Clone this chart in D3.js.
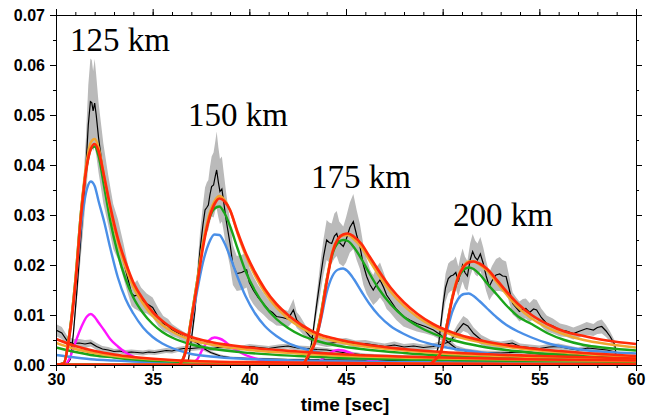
<!DOCTYPE html>
<html>
<head>
<meta charset="utf-8">
<title>envelopes</title>
<style>
  body { margin: 0; background: #fff; }
  svg { display: block; }
  .axis path, .axis line { stroke: #000; stroke-width: 1px; }
  .dist { font-family: "Liberation Serif", "Times New Roman", serif; font-size: 33px; fill: #000; }
</style>
</head>
<body>
<div id="chart"></div>
<script src="https://cdn.jsdelivr.net/npm/d3@7"></script>
<script>
// ---- data: labels and ticks
var distLabels = ["125 km", "150 km", "175 km", "200 km"];
var xTicks = [30, 35, 40, 45, 50, 55, 60];
var yTicks = [0, 0.01, 0.02, 0.03, 0.04, 0.05, 0.06, 0.07];

// ---- synthetic envelopes (time knots + values), 125 km
var t125 = [30, 30.4, 30.7, 31.0, 31.3, 31.6, 31.8, 32.0, 32.2, 32.5, 32.8, 33.2, 33.6, 34.0, 34.5, 35.0, 35.5, 36.0, 37, 38, 40, 42.5, 45, 50, 55, 60];
var m125 = [0, 0, 0.0013, 0.0045, 0.0075, 0.0097, 0.0102, 0.0096, 0.0085, 0.0069, 0.0052, 0.0037, 0.0025, 0.0017, 0.0011, 0.0008, 0.0006, 0.0005, 0.0004, 0.0003, 0.0002, 0.0002, 0.0001, 0.0001, 0.0001, 0.0001];
var b125 = [0, 0.0004, 0.006, 0.016, 0.028, 0.0352, 0.0367, 0.0358, 0.0328, 0.0285, 0.0235, 0.0175, 0.0132, 0.0103, 0.0075, 0.0056, 0.0043, 0.0034, 0.0022, 0.0017, 0.0012, 0.0009, 0.0007, 0.0005, 0.0004, 0.0003];
var g125 = [0, 0.0004, 0.0065, 0.017, 0.031, 0.040, 0.0432, 0.0437, 0.0418, 0.0355, 0.029, 0.0222, 0.0172, 0.0135, 0.0104, 0.0082, 0.0066, 0.0055, 0.0041, 0.0033, 0.0024, 0.0018, 0.0014, 0.001, 0.0008, 0.0006];
var o125 = [0, 0.0004, 0.0065, 0.017, 0.031, 0.041, 0.0445, 0.0452, 0.0435, 0.0375, 0.0312, 0.0245, 0.0195, 0.0156, 0.0123, 0.0098, 0.008, 0.0067, 0.005, 0.0041, 0.003, 0.0023, 0.0018, 0.0013, 0.001, 0.0008];
var r125 = [0, 0.0003, 0.006, 0.016, 0.030, 0.040, 0.0432, 0.0442, 0.0428, 0.0375, 0.0318, 0.0253, 0.0205, 0.0165, 0.0132, 0.0106, 0.0088, 0.0074, 0.0056, 0.0046, 0.0035, 0.0027, 0.0021, 0.0015, 0.0011, 0.0009];

// 150 km
var t150 = [30, 36.3, 36.7, 37.0, 37.3, 37.6, 37.9, 38.2, 38.45, 38.7, 39.0, 39.4, 39.8, 40.3, 40.8, 41.4, 42.0, 42.7, 43.5, 44.5, 46, 48, 50, 55, 60];
var m150 = [0, 0, 0.0001, 0.0003, 0.0011, 0.0033, 0.0049, 0.0055, 0.0053, 0.0048, 0.0038, 0.0028, 0.002, 0.0013, 0.0009, 0.0006, 0.0005, 0.0004, 0.0003, 0.0002, 0.0002, 0.0001, 0.0001, 0.0001, 0.0001];
var b150 = [0, 0, 0.0025, 0.0085, 0.0148, 0.0205, 0.0243, 0.0261, 0.026, 0.0245, 0.0217, 0.0175, 0.0138, 0.0103, 0.0078, 0.0058, 0.0044, 0.0034, 0.0026, 0.002, 0.0015, 0.0012, 0.001, 0.0007, 0.0005];
var g150 = [0, 0, 0.0028, 0.0095, 0.0168, 0.024, 0.029, 0.0313, 0.0317, 0.0305, 0.0278, 0.0232, 0.0188, 0.0148, 0.0118, 0.0092, 0.0074, 0.0059, 0.0048, 0.0039, 0.0031, 0.0024, 0.0019, 0.0013, 0.0009];
var o150 = [0, 0, 0.0027, 0.0095, 0.0168, 0.0243, 0.0298, 0.0328, 0.0338, 0.0331, 0.031, 0.0262, 0.022, 0.0178, 0.0145, 0.0115, 0.0093, 0.0074, 0.0058, 0.0047, 0.0037, 0.0029, 0.0023, 0.0016, 0.0012];
var r150 = [0, 0, 0.0025, 0.009, 0.016, 0.0235, 0.029, 0.0322, 0.0333, 0.0328, 0.031, 0.0265, 0.0225, 0.0185, 0.0152, 0.0122, 0.010, 0.008, 0.0063, 0.0052, 0.0041, 0.0032, 0.0026, 0.0018, 0.0013];

// 175 km
var t175 = [30, 42.7, 43.1, 43.4, 43.7, 44.0, 44.3, 44.6, 44.85, 45.1, 45.4, 45.8, 46.2, 46.7, 47.3, 48.0, 48.7, 49.5, 50.5, 52, 54, 57, 60];
var m175 = [0, 0, 0, 0.0003, 0.001, 0.0019, 0.0027, 0.003, 0.0029, 0.0026, 0.0021, 0.0015, 0.001, 0.0007, 0.0005, 0.0004, 0.0003, 0.0003, 0.0002, 0.0002, 0.0001, 0.0001, 0.0001];
var b175 = [0, 0, 0.0023, 0.0045, 0.009, 0.0145, 0.0178, 0.0191, 0.0193, 0.0187, 0.0172, 0.0147, 0.0123, 0.0099, 0.0078, 0.0062, 0.005, 0.0041, 0.0033, 0.0025, 0.0018, 0.0012, 0.0009];
var g175 = [0, 0, 0.0025, 0.005, 0.0102, 0.017, 0.0222, 0.0245, 0.025, 0.0248, 0.0236, 0.0212, 0.0184, 0.0152, 0.0122, 0.0096, 0.0078, 0.0063, 0.005, 0.0037, 0.0027, 0.0018, 0.0013];
var o175 = [0, 0, 0.0025, 0.005, 0.010, 0.017, 0.0228, 0.0253, 0.0259, 0.026, 0.0252, 0.0235, 0.021, 0.0179, 0.0147, 0.0118, 0.0096, 0.0077, 0.006, 0.0045, 0.0033, 0.0023, 0.0016];
var r175 = [0, 0, 0.0022, 0.0045, 0.0095, 0.0165, 0.0225, 0.0253, 0.0261, 0.0263, 0.0257, 0.0242, 0.0218, 0.0188, 0.0155, 0.0125, 0.0102, 0.0082, 0.0065, 0.0049, 0.0036, 0.0025, 0.0018];

// 200 km
var t200 = [30, 49.2, 49.6, 49.9, 50.2, 50.5, 50.8, 51.1, 51.35, 51.6, 51.9, 52.3, 52.8, 53.3, 53.9, 54.6, 55.4, 56.3, 57.3, 58.5, 60];
var m200 = [0, 0, 0, 0.0002, 0.0006, 0.001, 0.0014, 0.0015, 0.0014, 0.0012, 0.0009, 0.0006, 0.0004, 0.0003, 0.0002, 0.0002, 0.0001, 0.0001, 0.0001, 0.0001, 0.0001];
var b200 = [0, 0, 0.001, 0.0025, 0.0065, 0.0107, 0.0132, 0.0142, 0.0143, 0.0138, 0.0128, 0.0113, 0.0095, 0.008, 0.0067, 0.0055, 0.0044, 0.0036, 0.003, 0.0026, 0.0023];
var g200 = [0, 0, 0.001, 0.0027, 0.0078, 0.0135, 0.0173, 0.0191, 0.0195, 0.0192, 0.0182, 0.0163, 0.0141, 0.0119, 0.0097, 0.0082, 0.0064, 0.005, 0.004, 0.0034, 0.0029];
var o200 = [0, 0, 0.001, 0.0027, 0.0078, 0.0137, 0.0178, 0.0199, 0.0207, 0.0207, 0.0201, 0.0188, 0.0165, 0.0141, 0.0115, 0.0093, 0.0075, 0.0061, 0.005, 0.0042, 0.0035];
var r200 = [0, 0, 0.001, 0.0025, 0.0075, 0.0133, 0.0175, 0.0197, 0.0205, 0.0207, 0.0203, 0.0192, 0.017, 0.0147, 0.0122, 0.010, 0.0082, 0.0067, 0.0058, 0.0049, 0.0042];

// tails of an earlier arrival, already decaying at 30 s
var tPre = [30, 31, 32, 33, 34, 36, 38, 42, 48, 54, 60];
var bPre = [0.002, 0.0015, 0.0011, 0.0009, 0.0007, 0.0005, 0.0004, 0.0003, 0.0002, 0.0001, 0.0001];
var gPre = [0.0035, 0.0026, 0.0019, 0.0015, 0.0011, 0.0007, 0.0005, 0.0003, 0.0002, 0.0002, 0.0001];
var oPre = [0.0044, 0.0032, 0.0024, 0.0018, 0.0014, 0.0009, 0.0006, 0.0004, 0.0003, 0.0002, 0.0002];
var rPre = [0.0052, 0.0038, 0.0028, 0.0021, 0.0016, 0.001, 0.0007, 0.0005, 0.0003, 0.0002, 0.0002];

// ---- observed envelopes: [time, mean, sd]
var obsPre = [[30,0.0070,0.0012],[30.3,0.0064,0.0012],[30.6,0.0047,0.001],[30.9,0.0043,0.0009],[31.2,0.0044,0.0008],[31.5,0.0042,0.0008],[31.8,0.0044,0.0007],[32.1,0.0037,0.0007],[32.4,0.0032,0.0006],[32.7,0.0030,0.0006],[33.0,0.0027,0.0005],[33.3,0.0028,0.0005],[33.6,0.0025,0.0005],[33.9,0.0026,0.0005],[34.2,0.0025,0.0005],[34.5,0.0024,0.0005],[34.8,0.0026,0.0005],[35.1,0.0025,0.0005],[35.4,0.0027,0.0005],[35.7,0.0029,0.0005],[36.0,0.0028,0.0005],[36.3,0.0031,0.0005],[36.6,0.0033,0.0005],[37.0,0.0033,0.0005],[37.5,0.0035,0.0005],[38,0.0032,0.0005],[38.5,0.0036,0.0005],[39,0.0034,0.0005],[39.5,0.0033,0.0005],[40,0.0037,0.0005],[40.5,0.0035,0.0005],[41,0.0033,0.0005],[41.5,0.0036,0.0005],[42,0.0038,0.0005],[42.5,0.0034,0.0005],[43,0.0033,0.0005],[43.5,0.0031,0.0005],[44,0.0030,0.0004],[44.5,0.0027,0.0004],[45,0.0024,0.0004],[46,0.0020,0.0003],[47,0.0018,0.0003],[48,0.0017,0.0003],[50,0.0015,0.0003],[52,0.0013,0.0002],[55,0.0011,0.0002],[59,0.0009,0.0002]];

var obs125 = [[30,0.0002,0.0001],[30.6,0.0003,0.0001],[30.75,0.0012,0.0003],[30.9,0.0063,0.001],[31.07,0.0143,0.002],[31.2,0.021,0.003],[31.33,0.0277,0.004],[31.45,0.034,0.005],[31.55,0.0397,0.006],[31.67,0.048,0.008],[31.78,0.0527,0.0086],[31.85,0.0525,0.0085],[31.92,0.0508,0.008],[32.0,0.0524,0.0088],[32.08,0.050,0.008],[32.2,0.0455,0.007],[32.45,0.0383,0.006],[32.7,0.033,0.005],[32.96,0.0277,0.0045],[33.2,0.0252,0.004],[33.48,0.021,0.0035],[33.7,0.0175,0.003],[33.91,0.0143,0.0025],[34.05,0.0138,0.0025],[34.2,0.014,0.003],[34.4,0.013,0.0025],[34.69,0.0123,0.002],[35.0,0.0115,0.002],[35.3,0.0095,0.0018],[35.55,0.0083,0.0015],[35.8,0.0078,0.0014],[36.0,0.007,0.0012],[36.3,0.0064,0.001],[36.58,0.0057,0.001],[36.8,0.0053,0.0009],[37.0,0.005,0.0008],[37.3,0.0044,0.0006],[37.6,0.0034,0.0005],[38,0.0025,0.0003],[38.5,0.0018,0.0003],[39,0.0015,0.0002],[40,0.0013,0.0002],[42,0.0011,0.0002],[45,0.001,0.0002],[50,0.0008,0.0001],[55,0.0007,0.0001],[59,0.0006,0.0001]];

var obs150 = [[30,0.0002,0.0001],[36.7,0.0003,0.0001],[36.85,0.001,0.0003],[37.0,0.005,0.001],[37.19,0.011,0.0018],[37.3,0.0165,0.0025],[37.45,0.023,0.0035],[37.6,0.028,0.004],[37.71,0.031,0.0045],[37.8,0.0315,0.005],[37.88,0.032,0.005],[37.96,0.034,0.0055],[38.05,0.0357,0.006],[38.15,0.036,0.0065],[38.25,0.038,0.007],[38.31,0.039,0.0077],[38.4,0.0365,0.007],[38.48,0.0347,0.0065],[38.58,0.0352,0.0065],[38.66,0.033,0.006],[38.8,0.029,0.0055],[39.0,0.0243,0.0045],[39.15,0.020,0.004],[39.35,0.0183,0.0035],[39.6,0.0185,0.0035],[39.86,0.019,0.0035],[40.0,0.0165,0.003],[40.2,0.015,0.0028],[40.45,0.0135,0.0025],[40.72,0.0123,0.0022],[41.0,0.011,0.002],[41.2,0.0105,0.002],[41.4,0.0097,0.0018],[41.7,0.0095,0.0017],[42.0,0.0092,0.0016],[42.28,0.011,0.0022],[42.45,0.009,0.0016],[42.62,0.0083,0.0015],[42.9,0.0068,0.0012],[43.14,0.0057,0.001],[43.5,0.0048,0.0008],[44,0.0043,0.0007],[44.5,0.0045,0.0007],[45,0.0047,0.0007],[45.5,0.0042,0.0007],[46,0.0043,0.0007],[46.5,0.004,0.0006],[47,0.0037,0.0006],[47.5,0.004,0.0007],[48,0.0036,0.0006],[48.5,0.0038,0.0006],[49,0.0035,0.0006],[49.5,0.0037,0.0006],[50,0.0042,0.0007],[50.4,0.0047,0.0008],[50.75,0.0068,0.0012],[51.07,0.0083,0.0015],[51.3,0.0078,0.0014],[51.6,0.0063,0.0012],[52,0.005,0.001],[52.5,0.0042,0.0008],[53,0.004,0.0007],[53.6,0.0044,0.0007],[54,0.0037,0.0006],[54.5,0.0035,0.0006],[55,0.0033,0.0006],[55.5,0.0036,0.0006],[56,0.0037,0.0006],[56.5,0.0033,0.0006],[57,0.003,0.0005],[57.5,0.0034,0.0006],[58,0.0032,0.0006],[58.5,0.003,0.0005],[58.9,0.0026,0.0005],[59.1,0.001,0.0002]];

var obs175 = [[30,0.0002,0.0001],[42.9,0.0003,0.0001],[43.05,0.0008,0.0002],[43.2,0.004,0.0008],[43.31,0.007,0.0012],[43.48,0.012,0.002],[43.66,0.017,0.003],[43.83,0.0215,0.0035],[44.0,0.025,0.004],[44.13,0.0245,0.004],[44.26,0.0243,0.004],[44.4,0.0258,0.0045],[44.52,0.0263,0.0045],[44.65,0.0245,0.0042],[44.86,0.0237,0.004],[45.0,0.025,0.0045],[45.2,0.0275,0.005],[45.38,0.0287,0.0055],[45.55,0.026,0.005],[45.72,0.0237,0.0045],[45.9,0.020,0.004],[46.07,0.0177,0.0035],[46.25,0.016,0.003],[46.41,0.015,0.003],[46.6,0.0162,0.0035],[46.76,0.017,0.0035],[46.95,0.0155,0.003],[47.1,0.014,0.0028],[47.28,0.013,0.0025],[47.6,0.0112,0.0022],[47.97,0.0097,0.002],[48.3,0.009,0.0018],[48.66,0.0083,0.0016],[49.1,0.0077,0.0014],[49.52,0.007,0.0012],[49.9,0.006,0.001],[50.3,0.0045,0.0008],[50.7,0.0033,0.0006],[51.2,0.0028,0.0005],[52,0.0025,0.0004],[53,0.0024,0.0004],[54,0.0026,0.0004],[55,0.0022,0.0004],[56,0.0024,0.0004],[57,0.0021,0.0004],[58,0.0022,0.0004],[59,0.0019,0.0003]];

var obs200 = [[30,0.0002,0.0001],[49.45,0.0003,0.0001],[49.6,0.0012,0.0003],[49.78,0.0037,0.0008],[49.9,0.008,0.0015],[50.03,0.0123,0.0022],[50.15,0.0155,0.0028],[50.29,0.0173,0.003],[50.42,0.0178,0.003],[50.55,0.018,0.003],[50.68,0.0185,0.0032],[50.81,0.0167,0.003],[50.92,0.0185,0.0032],[51.03,0.020,0.0033],[51.15,0.0185,0.0032],[51.28,0.0178,0.003],[51.42,0.021,0.0033],[51.55,0.0227,0.0035],[51.68,0.0215,0.0034],[51.8,0.021,0.0033],[51.95,0.0222,0.0034],[52.1,0.0203,0.0032],[52.25,0.0178,0.003],[52.41,0.0157,0.0028],[52.55,0.0168,0.003],[52.76,0.018,0.0032],[52.95,0.0182,0.0034],[53.1,0.0178,0.0032],[53.28,0.0177,0.003],[53.45,0.015,0.0026],[53.62,0.0123,0.0022],[53.8,0.0115,0.002],[53.97,0.0107,0.002],[54.15,0.0112,0.002],[54.3,0.0113,0.002],[54.5,0.0105,0.0019],[54.7,0.0112,0.002],[54.86,0.011,0.002],[55.1,0.0095,0.0018],[55.38,0.0083,0.0016],[55.7,0.0078,0.0015],[56.07,0.007,0.0013],[56.4,0.0068,0.0012],[56.76,0.0063,0.0012],[57.1,0.0068,0.0012],[57.45,0.0073,0.0013],[57.8,0.007,0.0012],[58.0,0.0075,0.0013],[58.23,0.0077,0.0014],[58.45,0.0068,0.0012],[58.66,0.0057,0.001],[58.91,0.004,0.0008],[59.0,0.001,0.0002]];

// ---- chart
var W = 653, H = 418;
var x = d3.scaleLinear().domain([30, 60]).range([56, 636]);
var y = d3.scaleLinear().domain([0, 0.07]).range([365, 15]);

var svg = d3.select("#chart").append("svg").attr("width", W).attr("height", H);

svg.append("clipPath").attr("id", "plot")
  .append("rect").attr("x", 56).attr("y", 15).attr("width", 580).attr("height", 350);

var plot = svg.append("g").attr("clip-path", "url(#plot)");

var observed = [obsPre, obs125, obs150, obs175, obs200];

// grey spread around each observation
var band = d3.area()
  .x(function (d) { return x(d[0]); })
  .y0(function (d) { return y(Math.max(0, d[1] - d[2])); })
  .y1(function (d) { return y(d[1] + d[2]); });

plot.selectAll("path.band").data(observed).enter().append("path")
  .attr("class", "band")
  .attr("d", band)
  .attr("fill", "#bababa");

var obsLine = d3.line()
  .x(function (d) { return x(d[0]); })
  .y(function (d) { return y(d[1]); });

plot.selectAll("path.obs").data(observed).enter().append("path")
  .attr("class", "obs")
  .attr("d", obsLine)
  .attr("fill", "none")
  .attr("stroke", "#000")
  .attr("stroke-width", 1.2);

// synthetic curves, drawn colour by colour so red ends up on top
function pairs(t, v) { return t.map(function (tt, i) { return [tt, v[i]]; }); }

var colours = {
  magenta: "#ff14ff",
  blue: "#4a8fe7",
  green: "#1aa51a",
  orange: "#f2a630",
  red: "#ff2a0a"
};

var synthetic = [
  { c: "magenta", d: [pairs(t125, m125), pairs(t150, m150), pairs(t175, m175), pairs(t200, m200)] },
  { c: "blue", d: [pairs(tPre, bPre), pairs(t125, b125), pairs(t150, b150), pairs(t175, b175), pairs(t200, b200)] },
  { c: "green", d: [pairs(tPre, gPre), pairs(t125, g125), pairs(t150, g150), pairs(t175, g175), pairs(t200, g200)] },
  { c: "orange", d: [pairs(tPre, oPre), pairs(t125, o125), pairs(t150, o150), pairs(t175, o175), pairs(t200, o200)] },
  { c: "red", d: [pairs(tPre, rPre), pairs(t125, r125), pairs(t150, r150), pairs(t175, r175), pairs(t200, r200)] }
];

var synLine = d3.line()
  .curve(d3.curveMonotoneX)
  .x(function (d) { return x(d[0]); })
  .y(function (d) { return y(d[1]); });

synthetic.forEach(function (s) {
  plot.selectAll("path.syn-" + s.c).data(s.d).enter().append("path")
    .attr("class", "syn-" + s.c)
    .attr("d", synLine)
    .attr("fill", "none")
    .attr("stroke", colours[s.c])
    .attr("stroke-width", s.c === "red" ? 2.7 : 2.4)
    .attr("stroke-linejoin", "round");
});

// ---- axes with major and minor ticks on all four sides
var xMinor = d3.range(30, 61, 1);
var yMinor = d3.range(0, 0.0701, 0.005);

function styleAxis(g) {
  g.selectAll("text")
    .style("font-family", "Liberation Sans, Arial, sans-serif")
    .style("font-weight", "700")
    .style("font-size", "16px")
    .style("fill", "#000");
}

svg.append("g").attr("class", "axis").attr("transform", "translate(0,365)")
  .call(d3.axisBottom(x).tickValues(xMinor).tickSize(3).tickFormat(""));
svg.append("g").attr("class", "axis").attr("transform", "translate(0,365)")
  .call(d3.axisBottom(x).tickValues(xTicks).tickSize(6).tickPadding(3).tickFormat(d3.format("d")))
  .call(styleAxis);
svg.append("g").attr("class", "axis").attr("transform", "translate(0,15)")
  .call(d3.axisTop(x).tickValues(xMinor).tickSize(3).tickFormat(""));
svg.append("g").attr("class", "axis").attr("transform", "translate(0,15)")
  .call(d3.axisTop(x).tickValues(xTicks).tickSize(6).tickFormat(""));

svg.append("g").attr("class", "axis").attr("transform", "translate(56,0)")
  .call(d3.axisLeft(y).tickValues(yMinor).tickSize(3).tickFormat(""));
svg.append("g").attr("class", "axis").attr("transform", "translate(56,0)")
  .call(d3.axisLeft(y).tickValues(yTicks).tickSize(6).tickPadding(5).tickFormat(d3.format(".2f")))
  .call(styleAxis);
svg.append("g").attr("class", "axis").attr("transform", "translate(636,0)")
  .call(d3.axisRight(y).tickValues(yMinor).tickSize(3).tickFormat(""));
svg.append("g").attr("class", "axis").attr("transform", "translate(636,0)")
  .call(d3.axisRight(y).tickValues(yTicks).tickSize(6).tickFormat(""));

svg.append("text")
  .attr("x", 345).attr("y", 411)
  .attr("text-anchor", "middle")
  .style("font-family", "Liberation Sans, Arial, sans-serif")
  .style("font-weight", "700")
  .style("font-size", "19px")
  .text("time [sec]");

// distance labels
var labelAt = [[70, 51], [188, 126], [311, 188], [453, 226]];
svg.selectAll("text.dist").data(distLabels).enter().append("text")
  .attr("class", "dist")
  .attr("x", function (d, i) { return labelAt[i][0]; })
  .attr("y", function (d, i) { return labelAt[i][1]; })
  .text(function (d) { return d; });
</script>
</body>
</html>
